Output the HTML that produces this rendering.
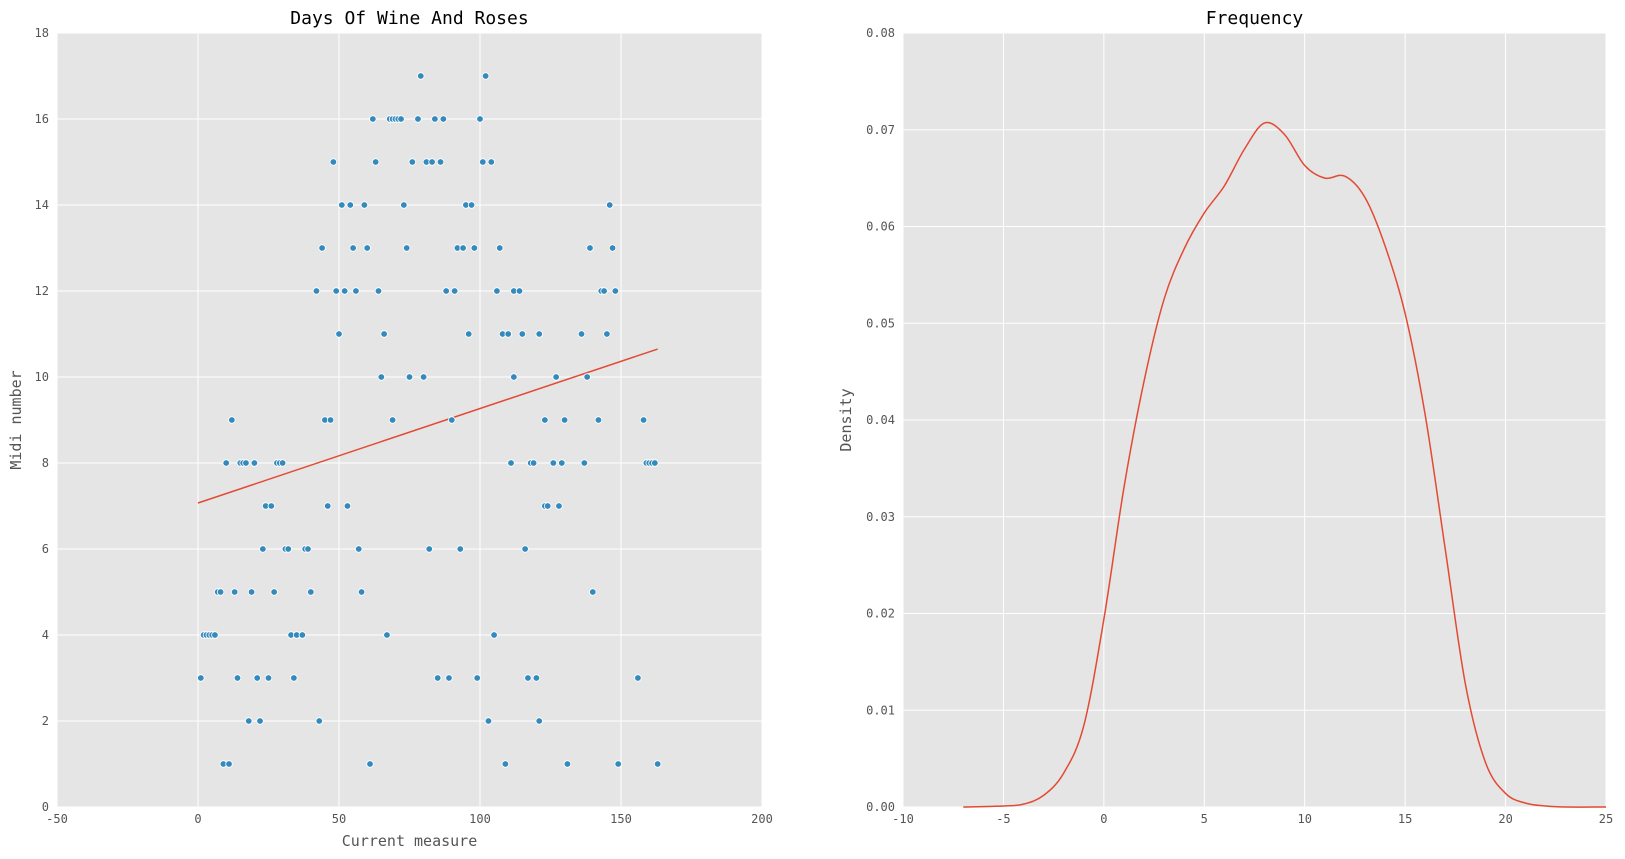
<!DOCTYPE html>
<html><head><meta charset="utf-8"><style>
body{margin:0;background:#fff;}
svg{display:block;font-family:"DejaVu Sans Mono","Liberation Mono",monospace;}
</style></head><body>
<svg id="chart" width="1625" height="859"></svg>
<script>
// Scatter data: x = current measure, y = midi number
const scatterX = [79,102, 62,68,69,70,71,72,78,84,87,100, 48,63,76,81,83,86,101,104,
 51,54,59,73,95,97,146, 44,55,60,74,92,94,98,107,139,147,
 42,49,52,56,64,88,91,106,112,114,143,144,148, 50,66,96,108,110,115,121,136,145,
 65,75,80,112,127,138, 12,45,47,69,90,123,130,142,158,
 10,15,16,17,20,28,29,30,111,118,119,126,129,137,159,160,161,162,
 24,26,46,53,123,124,128, 23,31,32,38,39,57,82,93,116,
 7,8,13,19,27,40,58,140, 2,3,4,5,6,33,35,37,67,105,
 1,14,21,25,34,85,89,99,117,120,156, 18,22,43,103,121, 9,11,61,109,131,149,163];
const scatterY = [17,17, 16,16,16,16,16,16,16,16,16,16, 15,15,15,15,15,15,15,15,
 14,14,14,14,14,14,14, 13,13,13,13,13,13,13,13,13,13,
 12,12,12,12,12,12,12,12,12,12,12,12,12, 11,11,11,11,11,11,11,11,11,
 10,10,10,10,10,10, 9,9,9,9,9,9,9,9,9,
 8,8,8,8,8,8,8,8,8,8,8,8,8,8,8,8,8,8,
 7,7,7,7,7,7,7, 6,6,6,6,6,6,6,6,6,
 5,5,5,5,5,5,5,5, 4,4,4,4,4,4,4,4,4,4,
 3,3,3,3,3,3,3,3,3,3,3, 2,2,2,2,2, 1,1,1,1,1,1,1];
const fitX = [0,163];
const fitY = [7.07,10.65];
const xTicks1 = [-50,0,50,100,150,200];
const yTicks1 = [0,2,4,6,8,10,12,14,16,18];
// Density curve
const densX = [-7,-5,-4,-3,-2,-1,0,1,2,3,4,5,6,7,8,9,10,11,12,13,14,15,16,17,18,19,20,21,22,23,25];
const densY = [0,0.0001,0.0003,0.0012,0.0035,0.0084,0.0194,0.033,0.044,0.0525,0.0577,0.0614,0.0642,0.068,0.0707,0.0695,0.0663,0.065,0.0652,0.063,0.058,0.051,0.0405,0.0266,0.0127,0.0046,0.0014,0.0004,0.0001,0,0];
const xTicks2 = [-10,-5,0,5,10,15,20,25];
const yTicks2 = [0,0.01,0.02,0.03,0.04,0.05,0.06,0.07,0.08];

const NS="http://www.w3.org/2000/svg";
const svg=document.getElementById('chart');
function mk(tag,attrs,parent){const e=document.createElementNS(NS,tag);for(const k in attrs)e.setAttribute(k,attrs[k]);(parent||svg).appendChild(e);return e;}

function panel(o){
  const {L,T,R,B,x0,x1,y0,y1,xt,yt,yfmt,title,xlabel,ylabel,ylabX,name}=o;
  const sx=v=>L+(v-x0)/(x1-x0)*(R-L);
  const sy=v=>B-(v-y0)/(y1-y0)*(B-T);
  const g=mk('g',{});
  
  
  const bg=mk('rect',{x:L,y:T,width:R-L,height:B-T,fill:'#e5e5e5'},g);
  
  
  xt.forEach(v=>{
    const l=mk('line',{x1:sx(v),x2:sx(v),y1:T,y2:B,stroke:'#fff','stroke-width':1},g);
    
    
    const t=mk('text',{x:sx(v),y:B+16,'text-anchor':'middle','font-size':12,fill:'#555'},g);
    t.textContent=v;
    
    
  });
  yt.forEach(v=>{
    const l=mk('line',{x1:L,x2:R,y1:sy(v),y2:sy(v),stroke:'#fff','stroke-width':1},g);
    
    
    const t=mk('text',{x:L-8,y:sy(v)+4,'text-anchor':'end','font-size':12,fill:'#555'},g);
    t.textContent=yfmt(v);
    
    
  });
  const ti=mk('text',{x:(L+R)/2,y:24,'text-anchor':'middle','font-size':18,fill:'#000'},g);
  ti.textContent=title;
  
  
  if(xlabel){const xl=mk('text',{x:(L+R)/2,y:846,'text-anchor':'middle','font-size':15,fill:'#555'},g);
    xl.textContent=xlabel;
    
    }
  const yl=mk('text',{x:ylabX,y:(T+B)/2,'text-anchor':'middle','font-size':15,fill:'#555',transform:`rotate(-90 ${ylabX} ${(T+B)/2})`},g);
  yl.textContent=ylabel;
  
  
  return {sx,sy,g};
}

const p1=panel({L:57,T:33,R:762,B:807,x0:-50,x1:200,y0:0,y1:18,xt:xTicks1,yt:yTicks1,yfmt:v=>v,
  title:'Days Of Wine And Roses',xlabel:'Current measure',ylabel:'Midi number',ylabX:21,name:'scatter-panel'});
const fl=mk('line',{x1:p1.sx(fitX[0]),y1:p1.sy(fitY[0]),x2:p1.sx(fitX[1]),y2:p1.sy(fitY[1]),stroke:'#e24a33','stroke-width':1.5},p1.g);


scatterX.forEach((x,i)=>{
  const c=mk('circle',{cx:p1.sx(x),cy:p1.sy(scatterY[i]),r:3.3,fill:'#348abd',stroke:'#fff','stroke-width':0.8},p1.g);
  
  
});

const p2=panel({L:903,T:33,R:1606,B:807,x0:-10,x1:25,y0:0,y1:0.08,xt:xTicks2,yt:yTicks2,yfmt:v=>v.toFixed(2),
  title:'Frequency',xlabel:null,ylabel:'Density',ylabX:851,name:'density-panel'});
const pts=densX.map((x,i)=>[p2.sx(x),p2.sy(densY[i])]);
let d=`M${pts[0][0]},${pts[0][1]}`;
for(let i=0;i<pts.length-1;i++){
  const p0=pts[Math.max(0,i-1)],a=pts[i],b=pts[i+1],p3=pts[Math.min(pts.length-1,i+2)];
  const c1=[a[0]+(b[0]-p0[0])/6,a[1]+(b[1]-p0[1])/6],c2=[b[0]-(p3[0]-a[0])/6,b[1]-(p3[1]-a[1])/6];
  d+=` C${c1[0]},${c1[1]} ${c2[0]},${c2[1]} ${b[0]},${b[1]}`;
}
const dp=mk('path',{d,fill:'none',stroke:'#e24a33','stroke-width':1.5},p2.g);


</script>
</body></html>
